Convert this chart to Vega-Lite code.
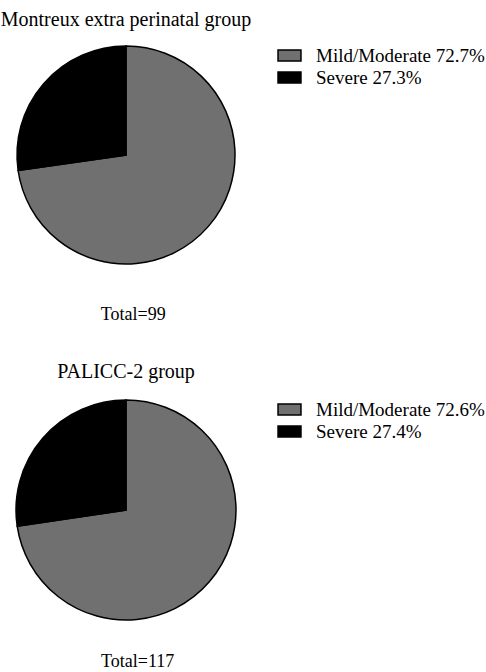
{
  "$schema": "https://vega.github.io/schema/vega-lite/v6.json",
  "background": "white",
  "padding": {"left": 0, "top": 10, "right": 0, "bottom": 0},
  "spacing": 38,
  "resolve": {"scale": {"color": "independent"}, "legend": {"color": "independent"}},
  "config": {
    "font": "Liberation Serif",
    "view": {"stroke": null},
    "title": {"font": "Liberation Serif", "fontWeight": "normal", "color": "black"},
    "legend": {
      "orient": "right",
      "offset": 29,
      "padding": 0,
      "title": null,
      "labelFont": "Liberation Serif",
      "labelFontSize": 19,
      "labelColor": "black",
      "labelLimit": 300,
      "labelOffset": 17,
      "symbolType": "M-1.35,-0.65H1.35V0.65H-1.35Z",
      "symbolSize": 289,
      "symbolStrokeColor": "black",
      "symbolStrokeWidth": 1.5,
      "rowPadding": 2
    }
  },
  "vconcat": [
    {
      "title": {"text": "Total=99", "orient": "bottom", "anchor": "start", "dx": 100, "fontSize": 18, "baseline": "alphabetic", "offset": 53},
      "resolve": {"scale": {"color": "independent"}, "legend": {"color": "independent"}},
      "vconcat": [
        {
          "width": 250,
          "height": 218,
          "title": {"text": "Montreux extra perinatal group", "anchor": "middle", "frame": "group", "fontSize": 20, "offset": 13},
          "data": {"values": [
            {"label": "Mild/Moderate 72.7%", "n": 72, "ord": 1},
            {"label": "Severe 27.3%", "n": 27, "ord": 2}
          ]},
          "mark": {"type": "arc", "radius": 109, "stroke": "black", "strokeWidth": 1.5},
          "encoding": {
            "theta": {"field": "n", "type": "quantitative", "stack": true},
            "order": {"field": "ord", "type": "quantitative"},
            "color": {
              "field": "label", "type": "nominal",
              "scale": {"domain": ["Mild/Moderate 72.7%", "Severe 27.3%"], "range": ["#707070", "#000000"]},
              "legend": {}
            }
          }
        }
      ]
    },
    {
      "title": {"text": "Total=117", "orient": "bottom", "anchor": "start", "dx": 100, "fontSize": 18, "baseline": "alphabetic", "offset": 44},
      "resolve": {"scale": {"color": "independent"}, "legend": {"color": "independent"}},
      "vconcat": [
        {
          "width": 250,
          "height": 220,
          "title": {"text": "PALICC-2 group", "anchor": "middle", "frame": "group", "fontSize": 20, "offset": 15},
          "data": {"values": [
            {"label": "Mild/Moderate 72.6%", "n": 85, "ord": 1},
            {"label": "Severe 27.4%", "n": 32, "ord": 2}
          ]},
          "mark": {"type": "arc", "radius": 110, "stroke": "black", "strokeWidth": 1.5},
          "encoding": {
            "theta": {"field": "n", "type": "quantitative", "stack": true},
            "order": {"field": "ord", "type": "quantitative"},
            "color": {
              "field": "label", "type": "nominal",
              "scale": {"domain": ["Mild/Moderate 72.6%", "Severe 27.4%"], "range": ["#707070", "#000000"]},
              "legend": {}
            }
          }
        }
      ]
    }
  ]
}
